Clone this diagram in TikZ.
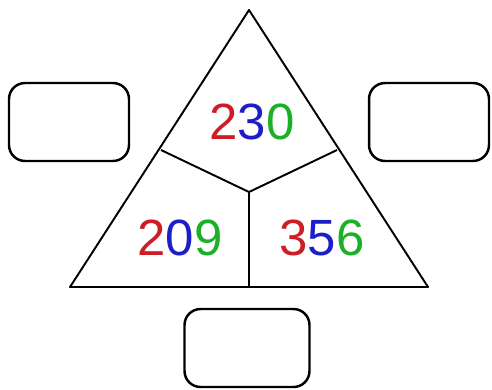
\documentclass[tikz,border=0pt]{standalone}
\usepackage{fontspec}
\setmainfont{Liberation Sans}
\definecolor{rosso}{RGB}{205,30,40}
\definecolor{blu}{RGB}{30,30,200}
\definecolor{verde}{RGB}{30,175,40}
\tikzset{
  lato/.style={line width=1.1pt, line join=round},
  casella/.style={draw, line width=1.4pt, rounded corners=0.32cm, minimum width=2.4cm, minimum height=1.56cm},
  numero/.style={font=\fontsize{29}{30}\selectfont}
}
\newcommand{\cifre}[3]{\textcolor{rosso}{#1}\textcolor{blu}{#2}\textcolor{verde}{#3}}
\begin{document}
\begin{tikzpicture}[x=0.02cm, y=-0.02cm]
        \useasboundingbox (0,0) rectangle (492,389);
        % Vertici e punti interni
        \coordinate (apice) at (249,10);
        \coordinate (sx) at (70,287);
        \coordinate (dx) at (428,287);
        \coordinate (centro) at (249,192);
        \coordinate (latosx) at (161,150);
        \coordinate (latodx) at (337,150);
        \coordinate (base) at (249,287);
        % Triangolo
        \draw[lato] (apice) -- (dx) -- (sx) -- cycle;
        % Divisioni
        \draw[lato] (latosx) -- (centro) -- (latodx);
        \draw[lato] (centro) -- (base);
        % Numeri
        \node[numero] (alto) at (252,122) {\cifre{2}{3}{0}};
        \node[numero] (sinistra) at (180,238) {\cifre{2}{0}{9}};
        \node[numero] (destra) at (322,238) {\cifre{3}{5}{6}};
        % Caselle vuote
        \node[casella] (boxsx) at (69,122) {};
        \node[casella] (boxdx) at (429,122) {};
        \node[casella, minimum width=2.5cm] (boxgiu) at (247,348) {};
    \end{tikzpicture}
\end{document}
